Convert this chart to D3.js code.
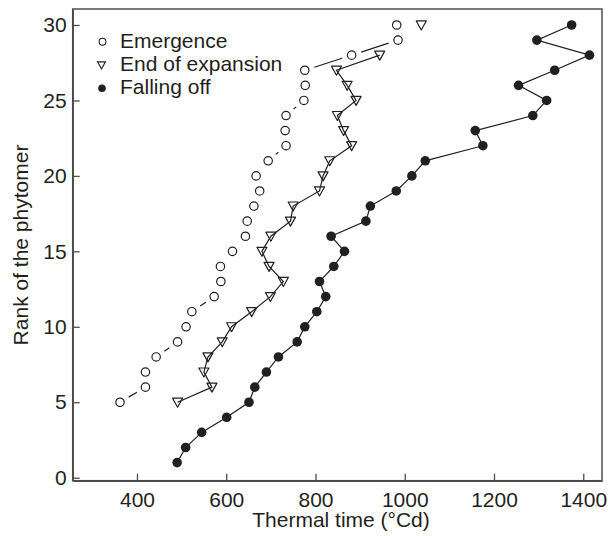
<!DOCTYPE html>
<html>
<head>
<meta charset="utf-8">
<script src="https://cdn.jsdelivr.net/npm/d3@7"></script>
<style>
  body { margin: 0; background: #fff; }
  svg text { font-family: "Liberation Sans", Arial, sans-serif; fill: #231f20; }
</style>
</head>
<body>
<div id="chart"></div>
<script>
// Rank of the phytomer for each series.
const emergence_ranks = d3.range( 5, 31 );
const emergence_tt = [ 362, 419, 419, 443, 491, 510, 523, 573, 588, 587, 614, 643, 647,
                       662, 675, 667, 694, 734, 732, 734, 774, 777, 776, 881, 985, 982 ];

const expansion_ranks = d3.range( 5, 31 );
// null = no observation (rank 29)
const expansion_tt = [ 491, 568, 550, 559, 591, 612, 657, 699, 728, 696, 680, 700, 744,
                       750, 809, 817, 832, 881, 863, 849, 891, 871, 847, 944, null, 1037 ];

const falling_ranks = d3.range( 1, 31 );
const falling_tt = [ 490, 509, 545, 601, 651, 664, 690, 717, 759, 776, 803, 823, 809,
                     841, 865, 835, 913, 923, 981, 1016, 1046, 1175, 1158, 1287, 1318,
                     1255, 1336, 1414, 1296, 1374 ];

const x_ticks = [ 400, 600, 800, 1000, 1200, 1400 ];
const y_ticks = [ 0, 5, 10, 15, 20, 25, 30 ];
const legend_labels = [ 'Emergence', 'End of expansion', 'Falling off' ];

const width = 608, height = 536;
const plot = { left: 72.7, right: 602, top: 9, bottom: 480.7 };
const ink = '#231f20';
const axis_ink = '#4d4d4d';

const svg = d3.select( '#chart' ).append( 'svg' )
  .attr( 'width', width )
  .attr( 'height', height );

const x = d3.scaleLinear().domain( [256, 1442] ).range( [plot.left, plot.right] );
const y = d3.scaleLinear().domain( [-0.2, 31.06] ).range( [plot.bottom, plot.top] );

// Frame round the plot
svg.append( 'rect' )
  .attr( 'x', plot.left ).attr( 'y', plot.top )
  .attr( 'width', plot.right - plot.left ).attr( 'height', plot.bottom - plot.top )
  .attr( 'fill', 'none' ).attr( 'stroke', axis_ink ).attr( 'stroke-width', 1.5 );

// Axes, ticks pointing inwards
const x_axis = svg.append( 'g' )
  .attr( 'transform', 'translate(0,' + plot.bottom + ')' )
  .call( d3.axisBottom( x ).tickValues( x_ticks ).tickFormat( d3.format( 'd' ) )
    .tickSizeInner( -7 ).tickSizeOuter( 0 ).tickPadding( 11 ) );
const y_axis = svg.append( 'g' )
  .attr( 'transform', 'translate(' + plot.left + ',0)' )
  .call( d3.axisLeft( y ).tickValues( y_ticks ).tickFormat( d3.format( 'd' ) )
    .tickSizeInner( -7 ).tickSizeOuter( 0 ).tickPadding( 6 ) );

[ x_axis, y_axis ].forEach( function( ax ){
  ax.select( '.domain' ).attr( 'stroke', axis_ink ).attr( 'stroke-width', 1.5 );
  ax.selectAll( '.tick line' ).attr( 'stroke', axis_ink ).attr( 'stroke-width', 1.3 );
  ax.selectAll( '.tick text' ).attr( 'font-size', 21 ).attr( 'fill', ink )
    .attr( 'font-family', '"Liberation Sans", Arial, sans-serif' );
} );

// Axis titles
svg.append( 'text' )
  .attr( 'x', 341 ).attr( 'y', 527 )
  .attr( 'text-anchor', 'middle' ).attr( 'font-size', 21 )
  .text( 'Thermal time (°Cd)' );
svg.append( 'text' )
  .attr( 'transform', 'translate(28,245) rotate(-90)' )
  .attr( 'text-anchor', 'middle' ).attr( 'font-size', 21 )
  .text( 'Rank of the phytomer' );

function to_points( ranks, tt ){
  return ranks.map( function( r, i ){ return { rank: r, tt: tt[i] }; } );
}
const emergence = to_points( emergence_ranks, emergence_tt );
const expansion = to_points( expansion_ranks, expansion_tt );
const falling = to_points( falling_ranks, falling_tt );

const line = d3.line()
  .defined( function( d ){ return d.tt != null; } )
  .x( function( d ){ return x( d.tt ); } )
  .y( function( d ){ return y( d.rank ); } );

// Emergence: segments broken around each marker
const gap = 10;
const em_segments = [];
for ( let i = 0; i < emergence.length - 1; i++ ){
  const x1 = x( emergence[i].tt ), y1 = y( emergence[i].rank );
  const x2 = x( emergence[i+1].tt ), y2 = y( emergence[i+1].rank );
  const len = Math.hypot( x2 - x1, y2 - y1 );
  if ( len <= 2 * gap + 0.8 ) continue;
  const ux = ( x2 - x1 ) / len, uy = ( y2 - y1 ) / len;
  em_segments.push( [ x1 + ux * gap, y1 + uy * gap, x2 - ux * gap, y2 - uy * gap ] );
}
svg.append( 'g' ).selectAll( 'line' )
  .data( em_segments ).enter().append( 'line' )
    .attr( 'x1', function( d ){ return d[0]; } ).attr( 'y1', function( d ){ return d[1]; } )
    .attr( 'x2', function( d ){ return d[2]; } ).attr( 'y2', function( d ){ return d[3]; } )
    .attr( 'stroke', ink ).attr( 'stroke-width', 1.2 );

// Solid lines for the other two series
svg.append( 'path' ).datum( expansion ).attr( 'd', line )
  .attr( 'fill', 'none' ).attr( 'stroke', ink ).attr( 'stroke-width', 1.2 );
svg.append( 'path' ).datum( falling ).attr( 'd', line )
  .attr( 'fill', 'none' ).attr( 'stroke', ink ).attr( 'stroke-width', 1.2 );

// Markers
function triangle_path( cx, cy, w, h ){
  return 'M' + ( cx - w / 2 ) + ',' + ( cy - h * 0.45 ) +
         'L' + ( cx + w / 2 ) + ',' + ( cy - h * 0.45 ) +
         'L' + cx + ',' + ( cy + h * 0.55 ) + 'Z';
}

svg.append( 'g' ).selectAll( 'circle' )
  .data( emergence ).enter().append( 'circle' )
    .attr( 'cx', function( d ){ return x( d.tt ); } )
    .attr( 'cy', function( d ){ return y( d.rank ); } )
    .attr( 'r', 4.2 )
    .attr( 'fill', '#fff' ).attr( 'stroke', ink ).attr( 'stroke-width', 1.2 );

svg.append( 'g' ).selectAll( 'path' )
  .data( expansion.filter( function( d ){ return d.tt != null; } ) ).enter().append( 'path' )
    .attr( 'd', function( d ){ return triangle_path( x( d.tt ), y( d.rank ), 10, 9 ); } )
    .attr( 'fill', 'none' ).attr( 'stroke', ink ).attr( 'stroke-width', 1.2 )
    .attr( 'stroke-linejoin', 'round' );

svg.append( 'g' ).selectAll( 'circle' )
  .data( falling ).enter().append( 'circle' )
    .attr( 'cx', function( d ){ return x( d.tt ); } )
    .attr( 'cy', function( d ){ return y( d.rank ); } )
    .attr( 'r', 4.8 )
    .attr( 'fill', ink );

// Legend
const legend = svg.append( 'g' );
legend_labels.forEach( function( label, i ){
  const cy = 41.7 + i * 23.3;
  if ( i === 0 ){
    legend.append( 'circle' ).attr( 'cx', 102.5 ).attr( 'cy', cy ).attr( 'r', 3.4 )
      .attr( 'fill', '#fff' ).attr( 'stroke', ink ).attr( 'stroke-width', 1.1 );
  } else if ( i === 1 ){
    legend.append( 'path' ).attr( 'd', triangle_path( 101.5, cy, 8, 7 ) )
      .attr( 'fill', 'none' ).attr( 'stroke', ink ).attr( 'stroke-width', 1.1 );
  } else {
    legend.append( 'circle' ).attr( 'cx', 102 ).attr( 'cy', cy ).attr( 'r', 3.8 )
      .attr( 'fill', ink );
  }
  legend.append( 'text' )
    .attr( 'x', 120 ).attr( 'y', cy + 6 )
    .attr( 'font-size', 21 )
    .text( label );
} );
</script>
</body>
</html>
